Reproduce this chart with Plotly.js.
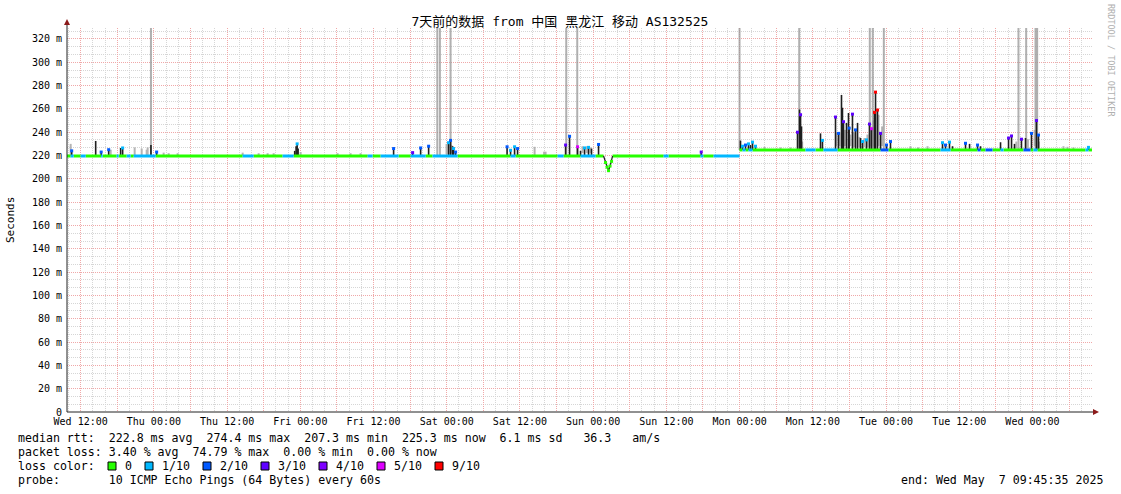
<!DOCTYPE html>
<html><head><meta charset="utf-8">
<script src="https://cdn.plot.ly/plotly-3.0.1.min.js"></script>
<style>html,body{margin:0;padding:0;background:#fff}#chart{width:1121px;height:494px}</style>
</head><body><div id="chart"></div>
<script>
// ---------- data ----------
const titleText = '7天前的数据 from 中国 黑龙江 移动 AS132525';
const startTime = [2025, 3, 30, 9, 45, 35];   // Wed Apr 30 09:45:35
const spanHours = 168;
const firstLabelTime = [2025, 3, 30, 12, 0, 0];
const xTickLabels = ['Wed 12:00','Thu 00:00','Thu 12:00','Fri 00:00','Fri 12:00','Sat 00:00','Sat 12:00',
  'Sun 00:00','Sun 12:00','Mon 00:00','Mon 12:00','Tue 00:00','Tue 12:00','Wed 00:00'];
const yTickValues = [0,20,40,60,80,100,120,140,160,180,200,220,240,260,280,300,320];
const yTickLabels = ['0','20 m','40 m','60 m','80 m','100 m','120 m','140 m','160 m','180 m','200 m',
  '220 m','240 m','260 m','280 m','300 m','320 m'];
const yMax = 329.4;

const lossLabels = ['0','1/10','2/10','3/10','4/10','5/10','9/10'];
const lossColors = ['#26ff00','#00b8ff','#0059ff','#5e00ff','#7e00ff','#dd00ff','#ff0000'];

// median rtt segments: start (hours from start), value (ms), loss level index (-1 = no line)
const medHrs = [0.0,0.60,1.09,2.24,3.06,5.60,5.85,8.14,8.47,9.78,10.43,10.93,14.53,28.79,30.59,35.34,37.15,
  49.27,50.09,51.40,54.35,56.32,58.78,59.92,64.02,72.70,73.52,80.41,81.39,84.17,86.63,87.94,89.42,97.78,98.6,
  103.84,104.3,105.97,110.23,110.72,111.21,111.70,112.36,121.04,122.68,123.99,126.28,133.34,134.64,143.17,
  144.81,149.24,149.73,150.55,151.70,153.01,153.50,156.77,157.92,158.41,159.06,166.93,167.42];
const medVal = [219.6,219.6,219.6,219.6,219.6,219.6,219.6,219.6,219.6,219.6,219.6,219.6,219.6,219.6,219.6,219.6,219.6,
  219.6,219.6,219.6,219.6,219.6,219.6,219.6,219.6,219.6,219.6,219.6,219.6,219.6,219.6,219.6,219.6,219.6,219.6,
  219.6,219.6,219.6,224.8,224.8,224.8,224.8,224.8,224.8,224.8,224.8,224.8,224.8,224.8,224.8,
  224.8,224.8,224.8,224.8,224.8,224.8,224.8,224.8,224.8,224.8,224.8,224.8,224.8];
const medLoss = [0,1,0,1,0,1,0,1,0,1,0,1,0,1,0,1,0,
  1,0,1,0,1,0,1,0,1,0,1,0,1,0,-1,0,1,0,
  1,0,1,0,1,0,1,0,1,0,1,0,2,0,1,
  0,2,0,2,0,1,0,2,0,1,0,1,0];

// dip of the median on Sunday morning: time (hours), value (ms)
const dipHrs = [87.94,88.27,88.52,88.76,89.01,89.26,89.42];
const dipVal = [219.6,214,210,207,211,215,219.6];

// rtt spikes: time (hours), peak value (ms), loss level of the peak (null = none)
const spkHrs = [0.77,4.70,5.60,6.83,8.79,9.12,13.76,14.69,37.32,37.55,37.72,37.88,53.53,56.65,57.96,59.27,
  62.54,62.87,63.20,63.36,63.69,72.13,72.70,73.36,73.85,81.72,82.37,83.68,84.17,84.83,85.48,85.97,87.12,
  103.95,110.39,110.72,111.21,111.70,112.03,112.36,112.85,
  119.73,120.06,120.23,120.39,123.50,123.82,125.96,126.45,126.94,127.10,127.27,127.76,128.09,128.20,128.74,
  129.24,129.57,130.06,130.39,131.04,131.53,131.86,132.35,132.52,132.84,133.34,134.32,134.97,
  143.50,143.99,144.64,145.14,147.27,147.93,149.24,149.73,153.01,154.32,154.81,155.30,156.44,157.10,
  158.08,158.90,159.23,167.42];
const spkTop = [224,232.5,223,225,226.5,226.5,229,223,224,228,230,226,226,222.5,226.5,228,
  231,233,228,226,223,227.5,224.5,227.5,226,229,236.5,227.5,224,226.5,227,226,229.5,
  223,232.8,228,229,230,229,231.5,228,
  240,259.5,255,245,239,233,253,239,272,261,249,248,256.5,243.5,255.5,
  242,248,235,232,233.4,247,243,257,274.4,259,239,229,232,
  231,229,231.5,228,230.5,230,229,228,231.4,235,236.8,230,234,235,
  239,250,237.6,227];
const spkTip = [2,null,2,2,null,1,null,2,null,null,1,null,2,3,2,2,
  1,2,null,1,2,2,1,1,2,3,2,5,null,1,1,null,2,
  3,null,1,2,1,null,1,1,
  3,null,3,null,null,1,3,2,null,null,3,null,null,2,3,
  2,null,null,1,1,3,5,6,6,6,3,2,2,
  1,2,1,null,2,null,2,null,null,3,3,null,3,null,
  2,3,2,1];

// smoke (spread of the pings): time (hours), low, high (ms)
const smkHrs = [0.60,7.16,11.09,12.24,13.06,13.22,15.84,16.66,18.13,28.79,31.41,32.88,33.87,38.29,44.35,46.48,48.12,
  62.21,62.54,63.0,76.64,78.2,78.44,84.5,85.2,85.8,114.33,116.95,118.59,120.5,126.1,126.6,127.5,128.4,129.0,
  129.9,130.7,131.2,131.7,132.2,133.0,133.6,138.25,139.5,141.04,155.6,157.5,158.6,159.3,163.32,163.98,164.96];
const smkLo = [220,220,220,220,220,220,220,220,220,220,220,220,220,220,220,220,220,
  221,221,222,220,220,220,222,222,222,225,225,225,226,228,228,228,228,227,
  227,227,227,228,228,228,228,225,225,225,226,226,228,226,225,225,225];
const smkHi = [230,225,227,226,225,227,222.5,222,222,222.5,222,222,222,223,222,222,222,
  230,230,229,227.5,223.3,223.3,228,228,227,227.5,227,227,232,240,240,242,238,240,
  236,235,238,245,250,255,245,228,227,228,232,234,242,232,228,227.5,227];

// single pings far above the range (lines to the top of the graph)
const outHrs = [13.76,60.69,61.12,62.87,81.83,83.63,110.23,120.01,131.58,132.07,133.88,155.95,157.21,158.74,159.01];

const rttStats = ['222.8','274.4','207.3','225.3','6.1','36.3'];
const lossStats = ['3.40','74.79','0.00','0.00'];
const probeText = '10 ICMP Echo Pings (64 Bytes) every 60s';
const endText = 'Wed May  7 09:45:35 2025';

// ---------- helpers ----------
const startMs = Date.UTC(...startTime);
const H = 3600e3;
const tx = h => startMs + h * H;
function baseAt(h) {
  let v = medVal[0];
  for (let i = 0; i < medHrs.length; i++) if (medHrs[i] <= h) v = medVal[i];
  return v;
}
const L = 67, T = 28, W = 1025, HH = 384;
const px = p => (p - L) / W;
const py = p => (T + HH - p) / HH;
const nb = s => s.replace(/ /g, '\u00a0');
const MONO = 'DejaVu Sans Mono, Noto Sans CJK SC, monospace';

// ---------- traces ----------
const traces = [];
{
  const x = [], y = [];
  smkHrs.forEach((h, i) => { x.push(tx(h), tx(h), null); y.push(smkLo[i], smkHi[i], null); });
  traces.push({x, y, mode: 'lines', line: {color: '#b4b4b4', width: 2}, hoverinfo: 'skip'});
}
{
  const x = [], y = [];
  outHrs.forEach(h => { x.push(tx(h), tx(h), null); y.push(baseAt(h), yMax + 5, null); });
  traces.push({x, y, mode: 'lines', line: {color: 'rgba(150,150,150,0.75)', width: 2}, hoverinfo: 'skip'});
}
{
  const x = [], y = [];
  spkHrs.forEach((h, i) => { x.push(tx(h), tx(h), null); y.push(baseAt(h), spkTop[i], null); });
  traces.push({x, y, mode: 'lines', line: {color: '#1e1e1e', width: 1.6}, hoverinfo: 'skip'});
}
lossColors.forEach((c, lvl) => {
  const x = [], y = [];
  medHrs.forEach((h, i) => {
    if (medLoss[i] !== lvl) return;
    const h2 = i + 1 < medHrs.length ? medHrs[i + 1] : spanHours;
    x.push(tx(h), tx(h2), null); y.push(medVal[i], medVal[i], null);
  });
  if (x.length) traces.push({x, y, mode: 'lines', line: {color: c, width: 3}, hoverinfo: 'skip'});
});
// dip
traces.push({x: dipHrs.map(tx), y: dipVal, mode: 'lines', line: {color: '#1e1e1e', width: 1.2}, hoverinfo: 'skip'});
traces.push({x: dipHrs.slice(1, -1).map(tx), y: dipVal.slice(1, -1), mode: 'markers',
  marker: {symbol: 'square', size: 3, color: lossColors[0], line: {width: 0}}, hoverinfo: 'skip'});
{
  const x = [], y = [], col = [];
  spkHrs.forEach((h, i) => { if (spkTip[i] !== null) { x.push(tx(h)); y.push(spkTop[i]); col.push(lossColors[spkTip[i]]); } });
  traces.push({x, y, mode: 'markers', marker: {symbol: 'square', size: 3, color: col, line: {width: 0}}, hoverinfo: 'skip'});
}

// ---------- axes ticks ----------
const firstMs = Date.UTC(...firstLabelTime);
const xTickVals = [], xTickText = [];
for (let i = 0; i < xTickLabels.length * 2; i++) {
  const t = firstMs + i * 6 * H;
  if (t > tx(spanHours)) break;
  xTickVals.push(t); xTickText.push(i % 2 === 0 ? xTickLabels[i / 2] : '');
}

// ---------- shapes & annotations ----------
const shapes = [
  {type: 'line', xref: 'paper', yref: 'paper', x0: 0, x1: 0, y0: 0, y1: py(22), line: {color: '#222', width: 1}},
  {type: 'line', xref: 'paper', yref: 'paper', x0: 0, x1: px(1094), y0: 0, y1: 0, line: {color: '#222', width: 1}},
  {type: 'path', xref: 'paper', yref: 'paper', fillcolor: '#8b1a1a', line: {width: 0},
   path: `M${px(64)},${py(25)} L${px(70)},${py(25)} L${px(67)},${py(19)} Z`},
  {type: 'path', xref: 'paper', yref: 'paper', fillcolor: '#8b1a1a', line: {width: 0},
   path: `M${px(1093)},${py(409)} L${px(1093)},${py(415)} L${px(1099)},${py(412)} Z`}
];
const boxX = [108,145,203,261,319,377,435];
lossColors.forEach((c, i) => {
  shapes.push({type: 'rect', xref: 'paper', yref: 'paper', x0: px(boxX[i]), x1: px(boxX[i] + 8),
    y0: py(470), y1: py(462), fillcolor: c, line: {color: '#000', width: 1}});
});

const lf = {family: MONO, size: 11.6, color: '#000'};
const ann = (text, xp, yp, extra) => Object.assign({text: nb(text), xref: 'paper', yref: 'paper', x: px(xp), y: py(yp),
  xanchor: 'left', yanchor: 'middle', showarrow: false, font: lf}, extra || {});
const annotations = [
  ann(`median rtt:  ${rttStats[0]} ms avg  ${rttStats[1]} ms max  ${rttStats[2]} ms min  ${rttStats[3]} ms now  ${rttStats[4]} ms sd   ${rttStats[5]}   am/s`, 16, 438),
  ann(`packet loss: ${lossStats[0]} % avg  ${lossStats[1]} % max  ${lossStats[2]} % min  ${lossStats[3]} % now`, 16, 452),
  ann('loss color:', 16, 466),
  ann(`probe:       ${probeText}`, 16, 480),
  ann(`end: ${endText}`, 1105, 480, {xanchor: 'right'}),
  ann('Seconds', 10, 220, {xanchor: 'center', textangle: -90, font: {family: MONO, size: 11, color: '#000'}}),
  ann('RRDTOOL / TOBI OETIKER', 1111, 60, {xanchor: 'center', textangle: 90, font: {family: MONO, size: 8.5, color: '#b0b0b0'}})
];
const labelX = [123,160,218,276,334,392,450];
lossLabels.forEach((t, i) => annotations.push(ann(t, labelX[i], 466)));

const gridMajor = '#f0a8a8', gridMinor = '#d6d6d6';
const layout = {
  width: 1121, height: 494,
  margin: {l: L, r: 1121 - L - W, t: T, b: 494 - T - HH, pad: 0},
  paper_bgcolor: '#fff', plot_bgcolor: '#fff',
  showlegend: false, hovermode: false,
  title: {text: titleText, font: {family: MONO, size: 13, color: '#000'},
    x: 560 / 1121, xref: 'container', xanchor: 'center', y: 1 - 21 / 494, yref: 'container', yanchor: 'middle'},
  xaxis: {type: 'date', range: [tx(0), tx(spanHours)], tickmode: 'array', tickvals: xTickVals, ticktext: xTickText,
    showgrid: true, gridcolor: gridMajor, griddash: '1px,1px', gridwidth: 1, zeroline: false, showline: false,
    ticks: '', tickfont: {family: MONO, size: 10, color: '#000'}, ticklabelstandoff: 2,
    minor: {tickmode: 'linear', tick0: firstMs, dtick: 2 * H, showgrid: true, gridcolor: gridMinor, griddash: '1px,1px', gridwidth: 1, ticks: ''}},
  yaxis: {range: [0, yMax], tickmode: 'array', tickvals: yTickValues, ticktext: yTickLabels,
    showgrid: true, gridcolor: gridMajor, griddash: '1px,1px', gridwidth: 1, zeroline: false, showline: false,
    ticks: '', tickfont: {family: MONO, size: 10, color: '#000'}, ticklabelstandoff: 4,
    minor: {tickmode: 'linear', tick0: 0, dtick: 20 / 3, showgrid: true, gridcolor: gridMinor, griddash: '1px,1px', gridwidth: 1, ticks: ''}},
  shapes, annotations
};
Plotly.newPlot('chart', traces, layout, {staticPlot: true, displayModeBar: false});
</script></body></html>
